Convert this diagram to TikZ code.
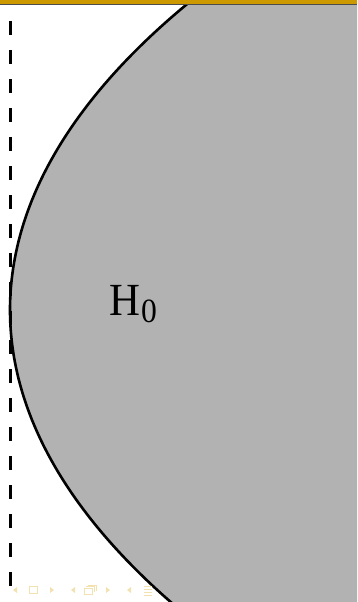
\documentclass[tikz,border=0pt]{standalone}
\usepackage{fontspec}
\setmainfont{Liberation Serif}
\definecolor{beamergold}{HTML}{CC9A00}
\definecolor{navgold}{HTML}{F2E2B0}
\definecolor{regiongray}{gray}{0.70}
\tikzset{
  boundary/.style={line width=2.6pt, black},
  dashline/.style={line width=3pt, dash pattern=on 14pt off 15pt},
  navmark/.style={fill=navgold, draw=none},
  navbox/.style={draw=navgold, line width=1pt},
  hlabel/.style={font=\fontsize{46}{48}\selectfont, inner sep=0pt, xscale=0.93}
}
\newcommand{\bnd}[1]{10+174*((#1-310)/310)*((#1-310)/310)+8*((#1-310)/310)*((#1-310)/310)*((#1-310)/310)*((#1-310)/310)}
\begin{document}
\begin{tikzpicture}[x=1pt,y=-1pt]
\useasboundingbox (0,0) rectangle (357,602);
\begin{scope}
\clip (0,0) rectangle (357,602);
% gray region
\fill[regiongray] plot[domain=0:602,samples=120,smooth] ({\bnd{\x}},\x) -- (357,602) -- (357,0) -- cycle;
\draw[boundary] plot[domain=-5:607,samples=120,smooth] ({\bnd{\x}},\x);
\end{scope}
% top bar
\fill[beamergold] (0,0) rectangle (357,4.6);
\draw[line width=0.8pt, black!70] (0,4.8) -- (357,4.8);
% dashed line
\coordinate (dtop) at (10,21);
\coordinate (dbot) at (10,586);
\draw[dashline] (dtop) -- (dbot);
% label
\node[hlabel, anchor=base west] (h0) at (109,315) {H\kern1pt\raisebox{-7pt}{\fontsize{34}{36}\selectfont 0}};
% navigation symbols
\fill[navmark] (13,590) -- (17,587) -- (17,593) -- cycle;
\draw[navbox] (29,586.5) rectangle (37,593);
\fill[navmark] (54,590) -- (50,587) -- (50,593) -- cycle;
\fill[navmark] (71,590) -- (75,587) -- (75,593) -- cycle;
\draw[navbox] (84,588) rectangle (92,594);
\draw[navbox] (86,586.5) -- (94,586.5) -- (94,592);
\draw[navbox] (88,585) -- (96,585) -- (96,590.5);
\fill[navmark] (110,590) -- (106,587) -- (106,593) -- cycle;
\fill[navmark] (127,590) -- (131,587) -- (131,593) -- cycle;
\draw[navbox] (144,586) -- (152,586) (144,589) -- (152,589) (144,592) -- (152,592) (144,595) -- (152,595);
\end{tikzpicture}
\end{document}
